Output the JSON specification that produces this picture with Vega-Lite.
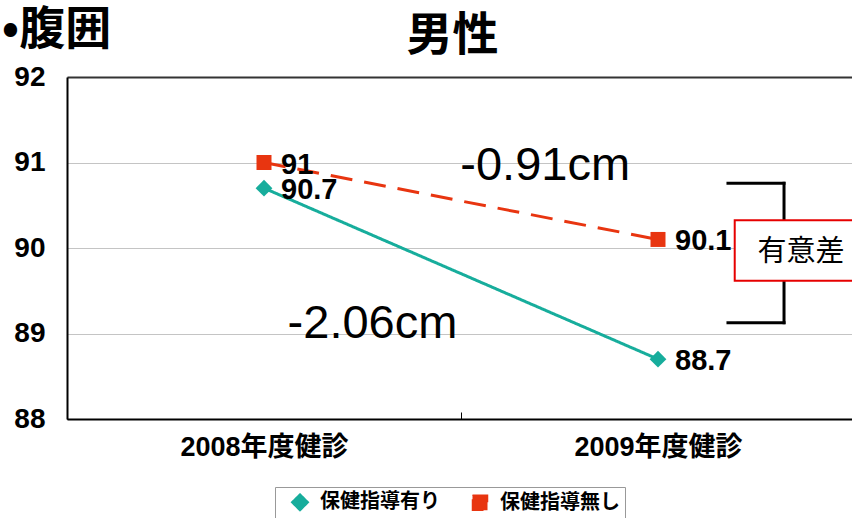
{
  "$schema": "https://vega.github.io/schema/vega-lite/v6.json",
  "width": 785,
  "height": 342,
  "autosize": "none",
  "padding": {"left": 67, "top": 77, "right": 0, "bottom": 99},
  "background": "white",
  "config": {"view": {"stroke": null}},
  "datasets": {
    "main": [
      {"period": "2008年度健診", "series": "保健指導有り", "value": 90.7, "label": "90.7"},
      {"period": "2009年度健診", "series": "保健指導有り", "value": 88.7, "label": "88.7"},
      {"period": "2008年度健診", "series": "保健指導無し", "value": 91.0, "label": "91"},
      {"period": "2009年度健診", "series": "保健指導無し", "value": 90.1, "label": "90.1"}
    ]
  },
  "resolve": {"scale": {"x": "independent"}},
  "layer": [
    {
      "data": {"name": "main"},
      "layer": [
        {
          "mark": {"type": "line", "strokeWidth": 3},
          "encoding": {
            "x": {"field": "period", "type": "nominal", "sort": null,
              "scale": {"type": "band", "paddingInner": 0, "paddingOuter": 0, "range": [0, 788]},
              "axis": {"title": null, "labelFont": "Liberation Sans, Noto Sans CJK JP", "labelFontSize": 27, "labelFontWeight": "bold", "labelColor": "#000", "labelAngle": 0, "domainColor": "#000", "domainWidth": 2, "tickBand": "extent", "tickColor": "#000", "tickSize": -7, "tickWidth": 1, "labelPadding": 22, "grid": false}},
            "y": {"field": "value", "type": "quantitative",
              "scale": {"domain": [88, 92], "nice": false, "zero": false},
              "axis": {"title": null, "values": [88, 89, 90, 91, 92], "format": "d", "labelFont": "Liberation Sans", "labelFontSize": 28, "labelFontWeight": "bold", "labelColor": "#000", "labelPadding": 22, "ticks": false, "grid": true, "gridColor": "#c4c4c4", "gridWidth": 1, "domainColor": "#000", "domainWidth": 2}},
            "color": {"field": "series", "type": "nominal",
              "scale": {"domain": ["保健指導有り", "保健指導無し"], "range": ["#17ad9c", "#e83510"]},
              "legend": {
                "orient": "none", "legendX": 208, "legendY": 410, "direction": "horizontal", "title": null,
                "strokeColor": "#999", "padding": 5,
                "labelFont": "Noto Sans CJK JP", "labelFontSize": 20, "labelFontWeight": "bold", "labelColor": "#000",
                "symbolSize": 200, "symbolOffset": 10, "labelOffset": 10, "columnPadding": 20, "symbolOpacity": 1
              }},
            "strokeDash": {"field": "series", "type": "nominal",
              "scale": {"domain": ["保健指導有り", "保健指導無し"], "range": [[1, 0], [22, 12]]}, "legend": null}
          }
        },
        {
          "mark": {"type": "point", "filled": true, "opacity": 1},
          "encoding": {
            "x": {"field": "period", "type": "nominal", "sort": null},
            "y": {"field": "value", "type": "quantitative"},
            "color": {"field": "series", "type": "nominal"},
            "shape": {"field": "series", "type": "nominal",
              "scale": {"domain": ["保健指導有り", "保健指導無し"], "range": ["diamond", "square"]}, "legend": null},
            "size": {"field": "series", "type": "nominal",
              "scale": {"domain": ["保健指導有り", "保健指導無し"], "range": [280, 225]}, "legend": null}
          }
        },
        {
          "mark": {"type": "text", "align": "left", "baseline": "middle", "dx": 17, "dy": 2, "font": "Liberation Sans", "fontSize": 29, "fontWeight": "bold", "color": "#000"},
          "encoding": {
            "x": {"field": "period", "type": "nominal", "sort": null},
            "y": {"field": "value", "type": "quantitative"},
            "text": {"field": "label", "type": "nominal"}
          }
        }
      ]
    },
    {
      "layer": [
        {
          "data": {"values": [
            {"ax": 0.842, "ax2": 0.9134, "ay": 90.757, "ay2": 90.757},
            {"ax": 0.9134, "ax2": 0.9134, "ay": 90.757, "ay2": 89.126},
            {"ax": 0.842, "ax2": 0.9134, "ay": 89.126, "ay2": 89.126}
          ]},
          "mark": {"type": "rule", "color": "#000", "strokeWidth": 3, "strokeCap": "square"},
          "encoding": {
            "x": {"field": "ax", "type": "quantitative", "scale": {"domain": [0, 1], "nice": false, "zero": false},
              "axis": {"orient": "top", "title": null, "labels": false, "ticks": false, "grid": false, "domain": true, "domainColor": "#333", "domainWidth": 2}},
            "x2": {"field": "ax2"},
            "y": {"field": "ay", "type": "quantitative", "scale": {"domain": [88, 92], "nice": false, "zero": false}},
            "y2": {"field": "ay2"}
          }
        },
        {
          "data": {"values": [{"ax": 0.8506, "ax2": 1.03, "ay": 90.324, "ay2": 89.618}]},
          "mark": {"type": "rect", "fill": "white", "stroke": "#e60000", "strokeWidth": 2},
          "encoding": {
            "x": {"field": "ax", "type": "quantitative"},
            "x2": {"field": "ax2"},
            "y": {"field": "ay", "type": "quantitative"},
            "y2": {"field": "ay2"}
          }
        },
        {
          "data": {"values": [{"ax": 0.935, "ay": 89.957, "t": "有意差"}]},
          "mark": {"type": "text", "align": "center", "baseline": "middle", "font": "Noto Sans CJK JP", "fontSize": 29, "color": "#000"},
          "encoding": {
            "x": {"field": "ax", "type": "quantitative"},
            "y": {"field": "ay", "type": "quantitative"},
            "text": {"field": "t"}
          }
        },
        {
          "data": {"values": [
            {"ax": 0.501, "ay": 90.795, "t": "-0.91cm"},
            {"ax": 0.281, "ay": 88.947, "t": "-2.06cm"}
          ]},
          "mark": {"type": "text", "align": "left", "baseline": "alphabetic", "font": "Liberation Sans", "fontSize": 47, "color": "#000"},
          "encoding": {
            "x": {"field": "ax", "type": "quantitative"},
            "y": {"field": "ay", "type": "quantitative"},
            "text": {"field": "t"}
          }
        },
        {
          "data": {"values": [{"ax": -0.083, "ay": 92.55, "t": "•腹囲"}]},
          "mark": {"type": "text", "align": "left", "baseline": "middle", "font": "Noto Sans CJK JP", "fontSize": 46, "fontWeight": "bold", "color": "#000"},
          "encoding": {
            "x": {"field": "ax", "type": "quantitative"},
            "y": {"field": "ay", "type": "quantitative"},
            "text": {"field": "t"}
          }
        },
        {
          "data": {"values": [{"ax": 0.491, "ay": 92.48, "t": "男性"}]},
          "mark": {"type": "text", "align": "center", "baseline": "middle", "font": "Noto Sans CJK JP", "fontSize": 46, "fontWeight": "bold", "color": "#000"},
          "encoding": {
            "x": {"field": "ax", "type": "quantitative"},
            "y": {"field": "ay", "type": "quantitative"},
            "text": {"field": "t"}
          }
        }
      ]
    }
  ]
}
